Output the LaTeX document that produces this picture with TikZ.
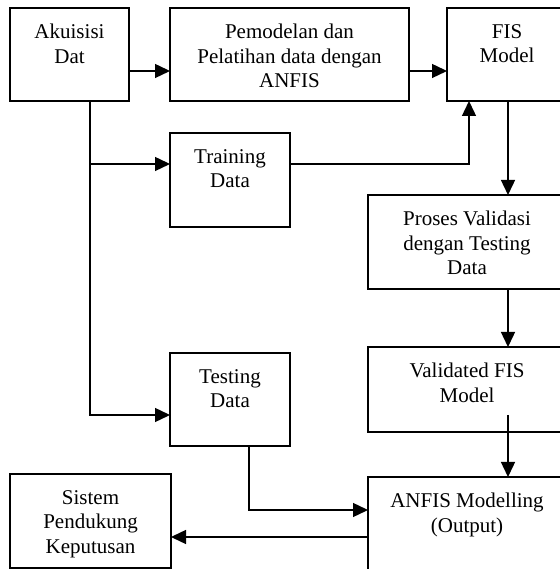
\documentclass[tikz,border=0pt]{standalone}
\usepackage{fontspec}
\setmainfont{Liberation Serif}
\usetikzlibrary{positioning,arrows.meta}
\tikzstyle{block} = [rectangle, draw, line width=1.8pt, inner sep=0pt, outer sep=0pt,
    minimum width=120pt, minimum height=93pt]
\tikzstyle{wide} = [block, minimum width=198pt]
\tikzstyle{txt} = [anchor=north, yshift=-16.2pt, inner sep=0pt, align=center,
    font=\fontsize{21}{24.5}\selectfont]
\tikzstyle{line} = [draw, line width=1.4pt, -{Triangle[length=15pt,width=14pt]}]

\begin{document}
\begin{tikzpicture}[x=1pt, y=1pt]
    \useasboundingbox (0,0) rectangle (559,569);
    % Place nodes
    \node [block, minimum width=119pt, label={[txt]north:Akuisisi\\Dat}] (akuisisi) at (69.5,514.5) {};
    \node [block, minimum width=239pt, right=41pt of akuisisi,
        label={[txt]north:Pemodelan dan\\Pelatihan data dengan\\ANFIS}] (pemodelan) {};
    \node [block, right=38pt of pemodelan, label={[txt]north:FIS\\Model}] (fis) {};
    \node [block, minimum height=94pt, below=32pt of pemodelan.south west, anchor=north west,
        label={[txt]north:Training\\Data}] (training) {};
    \node [wide, minimum height=94pt, below=94pt of fis.south east, anchor=north east, xshift=-1pt,
        label={[txt]north:Proses Validasi\\dengan Testing\\Data}] (proses) {};
    \node [wide, minimum height=85pt, below=58pt of proses,
        label={[txt]north:Validated FIS\\Model}] (validated) {};
    \node [wide, minimum height=103pt, below=45pt of validated,
        label={[txt]north:ANFIS Modelling\\(Output)}] (anfis) {};
    \node [block, below=126pt of training, label={[txt]north:Testing\\Data}] (testing) {};
    \node [block, minimum width=161pt, minimum height=94pt, below=373pt of akuisisi.south west,
        anchor=north west, label={[txt]north:Sistem\\Pendukung\\Keputusan}] (sistem) {};
    % Draw edges
    \path [line] ([yshift=-16.5pt]akuisisi.east) -- ([yshift=-16.5pt]pemodelan.west);
    \path [line] ([yshift=-16.5pt]pemodelan.east) -- ([yshift=-16.5pt]fis.west);
    \path [line] ([xshift=20.5pt]akuisisi.south) |- ([yshift=16pt]training.west);
    \path [line] ([xshift=20.5pt]akuisisi.south) |- ([yshift=-15.5pt]testing.west);
    \path [line] ([yshift=16pt]training.east) -| ([xshift=-38pt]fis.south);
    \path [line] ([xshift=1pt]fis.south) -- ([xshift=41pt]proses.north);
    \path [line] ([xshift=41pt]proses.south) -- ([xshift=41pt]validated.north);
    \path [line] ([xshift=41pt,yshift=17pt]validated.south) -- ([xshift=41pt]anfis.north);
    \path [line] ([xshift=19pt]testing.south) |- ([yshift=18.5pt]anfis.west);
    \path [line] ([yshift=-8.5pt]anfis.west) -- ([yshift=-16pt]sistem.east);
\end{tikzpicture}
\end{document}
